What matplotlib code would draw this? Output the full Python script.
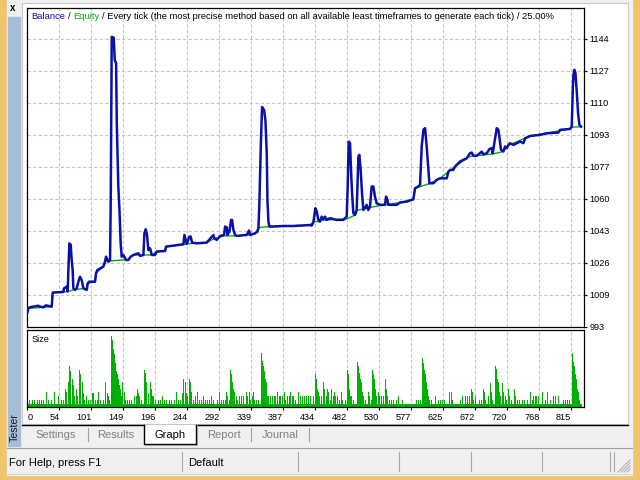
import numpy as np
import matplotlib
matplotlib.use("Agg")
import matplotlib.pyplot as plt
from matplotlib.patches import Rectangle

plt.rcParams['font.family'] = ['Liberation Sans', 'DejaVu Sans']

# balance line (trade number, account value)
balance_trade = [6.5, 8.0, 10.4, 22.8, 25.3, 30.3, 34.2, 42.7, 44.2, 60.0, 61.0, 65.0, 66.5, 67.5, 69.0,
                 71.0, 72.4, 73.9, 74.9, 77.4, 79.9, 82.4, 84.8, 87.3, 89.8, 94.8, 96.2, 98.2, 107.2,
                 108.6, 110.6, 119.5, 122.0, 123.5, 127.0, 129.5, 130.5, 132.0, 135.0, 136.5, 138.5,
                 139.5, 141.8, 143.4, 145.3, 146.8, 149.3, 153.3, 156.8, 160.2, 164.2, 171.6, 174.1,
                 179.1, 180.6, 182.6, 184.5, 186.5, 189.0, 191.5, 196.4, 198.9, 211.3, 212.8, 223.7,
                 238.6, 240.1, 242.1, 243.6, 247.5, 249.5, 251.5, 258.4, 273.3, 283.2, 284.7, 288.2,
                 293.2, 299.1, 300.6, 303.1, 304.1, 307.0, 309.5, 311.0, 313.0, 315.5, 318.0, 332.8,
                 336.3, 337.8, 345.2, 348.7, 350.2, 351.7, 353.7, 355.6, 358.6, 360.6, 362.6, 363.6,
                 365.1, 366.6, 372.5, 387.4, 402.3, 427.1, 429.4, 431.9, 434.9, 436.9, 439.3, 441.8,
                 444.3, 446.8, 449.3, 451.7, 456.7, 466.6, 476.5, 479.0, 481.5, 483.0, 484.5, 486.5,
                 487.9, 489.4, 491.4, 493.9, 496.4, 498.9, 500.3, 502.3, 504.3, 506.3, 508.8, 511.2,
                 513.7, 516.2, 518.7, 521.2, 523.6, 526.1, 531.1, 538.5, 540.0, 542.0, 543.5, 555.9,
                 560.9, 570.8, 580.7, 583.2, 585.7, 590.6, 593.1, 595.6, 598.1, 600.5, 603.0, 604.5,
                 610.5, 615.4, 620.4, 630.3, 632.8, 635.2, 640.2, 642.7, 650.1, 655.1, 660.0, 665.0,
                 667.5, 670.0, 674.9, 682.4, 684.8, 689.8, 693.8, 697.2, 698.7, 702.2, 704.7, 707.2,
                 709.7, 711.1, 714.6, 717.1, 719.6, 722.0, 724.5, 729.5, 739.4, 744.4, 746.9, 754.3,
                 769.2, 779.1, 796.5, 798.9, 813.8, 816.3, 817.8, 818.8, 820.3, 821.8, 823.7, 825.7,
                 827.7, 830.2]
balance_value = [1000.4, 1002.6, 1003.2, 1004.0, 1003.5, 1003.2, 1004.2, 1003.5, 1010.9, 1011.2, 1013.1,
                 1014.0, 1011.4, 1022.7, 1036.7, 1035.9, 1028.0, 1022.7, 1013.1, 1012.3, 1013.1, 1016.6,
                 1019.2, 1017.5, 1013.1, 1012.3, 1015.7, 1016.6, 1016.6, 1021.0, 1022.7, 1024.5, 1027.1,
                 1029.7, 1027.1, 1028.0, 1058.6, 1145.0, 1144.5, 1132.8, 1131.0, 1100.0, 1066.4, 1055.1,
                 1036.7, 1029.7, 1030.6, 1028.0, 1028.0, 1029.7, 1030.6, 1031.5, 1030.1, 1030.6, 1042.0,
                 1044.1, 1041.1, 1033.2, 1034.1, 1030.6, 1030.6, 1032.4, 1032.7, 1035.0, 1035.5, 1036.2,
                 1041.1, 1038.5, 1036.4, 1040.2, 1040.2, 1037.1, 1036.7, 1037.1, 1041.1, 1039.3, 1038.5,
                 1040.6, 1041.1, 1045.5, 1045.1, 1041.1, 1042.8, 1049.0, 1049.0, 1043.7, 1041.1, 1040.6,
                 1041.1, 1043.4, 1041.1, 1042.0, 1042.8, 1044.6, 1058.6, 1087.4, 1108.2, 1106.6, 1101.4,
                 1083.9, 1059.4, 1048.1, 1045.5, 1045.5, 1045.8, 1045.8, 1046.3, 1046.0, 1047.6, 1055.1,
                 1053.4, 1049.0, 1048.1, 1050.7, 1049.3, 1050.7, 1049.0, 1049.9, 1049.0, 1049.0, 1049.9,
                 1050.7, 1066.5, 1090.1, 1089.2, 1075.2, 1063.9, 1052.5, 1051.6, 1054.2, 1082.2, 1083.1,
                 1075.2, 1063.0, 1054.2, 1055.1, 1056.9, 1054.2, 1056.0, 1066.5, 1066.5, 1061.2, 1057.7,
                 1056.9, 1056.9, 1061.2, 1059.5, 1056.9, 1056.9, 1058.1, 1058.6, 1059.8, 1065.6, 1066.0,
                 1067.3, 1087.5, 1096.2, 1097.1, 1087.5, 1075.2, 1068.2, 1068.2, 1070.0, 1070.8, 1070.8,
                 1074.3, 1075.2, 1075.2, 1077.0, 1079.6, 1080.5, 1081.3, 1084.0, 1084.3, 1082.6, 1082.6,
                 1084.8, 1083.4, 1083.9, 1086.1, 1086.6, 1083.9, 1091.8, 1097.1, 1096.2, 1089.2, 1085.7,
                 1084.8, 1087.5, 1086.6, 1088.3, 1089.2, 1088.3, 1090.1, 1089.2, 1091.8, 1093.0, 1093.6,
                 1094.4, 1094.8, 1096.2, 1096.7, 1097.9, 1117.2, 1125.0, 1127.7, 1125.9, 1116.3, 1104.9,
                 1098.8, 1097.9]

# equity line (only visible under the balance spikes)
equity_trade = [6.4, 8.0, 42.7, 44.2, 60.0, 66.5, 75.0, 89.8, 94.8, 96.2, 107.2, 108.6, 119.5, 123.5,
                129.5, 149.3, 156.8, 160.2, 164.2, 179.1, 191.5, 198.9, 211.3, 212.8, 238.6, 251.5,
                273.3, 283.2, 299.1, 318.0, 345.2, 350.2, 366.6, 427.1, 432.0, 441.0, 444.3, 481.5,
                494.0, 496.4, 516.0, 531.0, 560.9, 580.7, 583.2, 604.5, 620.4, 642.7, 665.0, 697.2,
                711.1, 724.5, 754.3, 813.8, 816.3, 830.2]
equity_value = [1000.4, 1002.6, 1003.5, 1010.9, 1011.2, 1011.4, 1012.3, 1013.1, 1012.3, 1015.7, 1016.6,
                1021.0, 1024.5, 1027.5, 1027.5, 1028.0, 1028.0, 1029.7, 1030.6, 1030.6, 1030.6, 1032.4,
                1032.7, 1035.0, 1036.2, 1036.7, 1037.1, 1039.0, 1040.6, 1040.6, 1041.5, 1045.0, 1045.5,
                1046.3, 1048.1, 1048.1, 1048.8, 1049.5, 1051.5, 1054.0, 1055.5, 1056.5, 1058.1, 1059.8,
                1065.6, 1068.0, 1070.8, 1077.0, 1082.3, 1083.5, 1084.5, 1088.5, 1093.0, 1096.7, 1097.6,
                1097.9]

# lot size per trade
size_trade = [10, 14, 17, 21, 24, 28, 31, 35, 38, 42, 47, 53, 57, 60, 63, 65, 67, 69, 71, 73, 75, 77,
              79, 81, 84, 86, 88, 90, 92, 95, 97, 101, 103, 105, 108, 111, 113, 116, 120, 123, 125, 127,
              129, 131, 133, 134.5, 136, 137.5, 139, 140.5, 142, 143.5, 145, 146.5, 148.5, 150.5, 152,
              155, 159, 162, 166, 169, 170.5, 172, 174, 177, 180, 182, 184, 186, 189, 190.5, 192.5, 194.5,
              197.5, 201, 204.5, 208, 211, 214, 218, 221, 225, 229, 231, 234, 237, 239, 241, 243, 245,
              247, 249, 251, 253, 256, 259, 262, 265, 268, 271, 275, 278, 281, 284, 289, 292, 295, 298,
              300.5, 302.5, 304.5, 306.5, 308.5, 310, 311.5, 313, 315, 317, 319, 322, 325, 328, 332.5,
              334.5, 336.5, 338.5, 341, 343, 345, 347.5, 350.5, 354.5, 356, 357.5, 359, 360.5, 362,
              363.5, 365.5, 368.5, 371.5, 374, 376, 378.5, 381, 383.5, 386, 388.5, 391, 393.5, 396,
              398, 400.5, 403, 405.5, 409.5, 412.5, 415.5, 418.5, 421.5, 425, 428, 432, 435, 436.5,
              438, 439.5, 441.5, 444.5, 447, 449, 451, 453, 455, 457, 459.5, 461.5, 463.5, 465.5,
              468.5, 471.5, 474, 476, 479.5, 482.5, 484, 485.5, 487, 489, 491.5, 497, 498.5, 500,
              501.5, 503, 504.5, 506.5, 510, 513.5, 515.5, 518, 520, 521.5, 522.5, 524, 526, 528.5,
              531, 533.5, 536.5, 539, 540.5, 542.5, 545.5, 548.5, 551.5, 555, 558.5, 564, 585, 588,
              591, 594, 595.5, 597, 598.5, 600, 601.5, 603, 605, 608, 613.5, 618, 621, 624, 627, 634,
              637, 639, 650.5, 654, 657.5, 661.5, 663.5, 667, 668.5, 670.5, 673.5, 678.5, 681.5, 685,
              686.5, 688.5, 692.5, 695.5, 697, 699, 702.5, 704, 705.5, 707, 708.5, 710.5, 713, 715,
              717, 719.5, 722, 724, 726, 731, 733, 736, 739, 743, 746, 750, 755, 757.5, 760, 762,
              764.5, 766.5, 772.5, 776.5, 780.5, 784.5, 788.5, 792.5, 797, 804, 807.5, 810.5, 813.5,
              817, 818.5, 820, 821.5, 823, 824.5, 826, 827.5]
size_lots = [0.01, 0.01, 0.01, 0.01, 0.01, 0.01, 0.01, 0.021, 0.01, 0.01, 0.021, 0.015, 0.01, 0.01,
             0.025, 0.021, 0.034, 0.056, 0.05, 0.038, 0.03, 0.015, 0.025, 0.015, 0.051, 0.045, 0.034,
             0.019, 0.01, 0.015, 0.01, 0.01, 0.019, 0.019, 0.01, 0.01, 0.021, 0.01, 0.01, 0.034, 0.019,
             0.015, 0.01, 0.098, 0.092, 0.08, 0.073, 0.061, 0.05, 0.045, 0.038, 0.03, 0.025, 0.015,
             0.034, 0.021, 0.01, 0.01, 0.01, 0.01, 0.015, 0.015, 0.025, 0.019, 0.015, 0.01, 0.051,
             0.047, 0.034, 0.019, 0.034, 0.025, 0.015, 0.015, 0.01, 0.01, 0.01, 0.015, 0.01, 0.01,
             0.01, 0.01, 0.01, 0.021, 0.01, 0.01, 0.019, 0.038, 0.034, 0.019, 0.015, 0.038, 0.034,
             0.021, 0.01, 0.015, 0.021, 0.01, 0.01, 0.015, 0.01, 0.01, 0.01, 0.015, 0.01, 0.01,
             0.021, 0.01, 0.01, 0.01, 0.021, 0.015, 0.01, 0.051, 0.045, 0.034, 0.025, 0.021, 0.015,
             0.01, 0.015, 0.015, 0.015, 0.021, 0.015, 0.021, 0.01, 0.015, 0.021, 0.01, 0.01, 0.01,
             0.074, 0.063, 0.057, 0.05, 0.038, 0.034, 0.015, 0.015, 0.015, 0.015, 0.015, 0.015,
             0.021, 0.015, 0.015, 0.015, 0.021, 0.01, 0.015, 0.015, 0.021, 0.015, 0.015, 0.01,
             0.021, 0.015, 0.015, 0.015, 0.015, 0.015, 0.015, 0.015, 0.045, 0.038, 0.025, 0.021,
             0.015, 0.015, 0.034, 0.025, 0.015, 0.025, 0.021, 0.01, 0.025, 0.015, 0.021, 0.015,
             0.015, 0.01, 0.021, 0.01, 0.01, 0.051, 0.045, 0.025, 0.015, 0.015, 0.01, 0.062, 0.057,
             0.047, 0.038, 0.034, 0.021, 0.015, 0.01, 0.021, 0.015, 0.01, 0.051, 0.045, 0.038,
             0.025, 0.015, 0.021, 0.015, 0.015, 0.015, 0.038, 0.025, 0.015, 0.01, 0.01, 0.01, 0.01,
             0.015, 0.01, 0.01, 0.01, 0.01, 0.068, 0.061, 0.051, 0.045, 0.034, 0.025, 0.015, 0.01,
             0.01, 0.015, 0.01, 0.01, 0.01, 0.01, 0.021, 0.021, 0.01, 0.01, 0.015, 0.015, 0.015,
             0.015, 0.025, 0.021, 0.01, 0.015, 0.01, 0.01, 0.025, 0.021, 0.01, 0.015, 0.033, 0.021,
             0.01, 0.057, 0.052, 0.038, 0.034, 0.021, 0.015, 0.033, 0.021, 0.015, 0.01, 0.025,
             0.015, 0.01, 0.025, 0.015, 0.01, 0.01, 0.01, 0.01, 0.01, 0.021, 0.01, 0.015, 0.015,
             0.015, 0.015, 0.021, 0.01, 0.021, 0.01, 0.015, 0.015, 0.015, 0.01, 0.01, 0.01, 0.01,
             0.074, 0.062, 0.056, 0.045, 0.038, 0.025, 0.021, 0.01]
size_floor = 0.004
first_trade, last_trade = 6.4, 831.0

x_labels = ['0', '54', '101', '149', '196', '244', '292', '339', '387', '434', '482', '530',
            '577', '625', '672', '720', '768', '815']
y_labels = ['993', '1009', '1026', '1043', '1060', '1077', '1093', '1110', '1127', '1144']
title_parts = [('Balance', '#0a10a8'), ('/', '#000000'), ('Equity', '#00b000'),
               ('/ Every tick (the most precise method based on all available least timeframes '
                'to generate each tick) / 25.00%', '#000000')]
tabs = ['Settings', 'Results', 'Graph', 'Report', 'Journal']
tab_x = [56, 116, 170, 224, 280]

blue = '#0a10a8'
green = '#00b000'
grid_kw = dict(color='#c4c4c4', lw=0.8, ls=(0, (3, 2)))
fs = 6.6
title_fs = 6.75

fig = plt.figure(figsize=(6.4, 4.8), dpi=100)

# window chrome drawn in pixel coordinates
bg = fig.add_axes([0, 0, 1, 1])
bg.set_xlim(0, 640)
bg.set_ylim(480, 0)
bg.axis('off')
bg.add_patch(Rectangle((0, 0), 640, 480, color='#eec46e'))
bg.add_patch(Rectangle((7, 0), 625, 475, color='#f0f0f0'))
bg.add_patch(Rectangle((22, 3), 606, 421, facecolor='white', edgecolor='#c8c8c8', lw=0.8))
bg.add_patch(Rectangle((8, 17), 12, 429, color='#a6bdd8'))
bg.text(13, 8, 'x', fontsize=7, fontweight='bold', ha='center', va='center')
bg.text(14.5, 428, 'Tester', rotation=90, fontsize=7.6, ha='center', va='center', color='#1a1a1a')
bg.plot([22, 144], [424.5, 424.5], color='black', lw=1)
bg.plot([196, 628], [424.5, 424.5], color='black', lw=1)
bg.add_patch(Rectangle((144, 424.5), 52, 19, facecolor='white', edgecolor='none'))
bg.plot([144, 144, 196, 196], [424.5, 443.5, 443.5, 424.5], color='black', lw=1)
bg.plot([145, 197, 197], [444.5, 444.5, 425], color='#a0a0a0', lw=0.8)
for sx in [88, 251, 309]:
    bg.plot([sx, sx], [428, 441], color='#a0a0a0', lw=0.8)
for name, tx in zip(tabs, tab_x):
    bg.text(tx, 434.5, name, fontsize=8, ha='center', va='center',
            color='black' if name == 'Graph' else '#808080')
bg.plot([7, 632], [447.5, 447.5], color='#a0a0a0', lw=0.8)
bg.plot([7, 632], [473.5, 473.5], color='#d8d8d8', lw=0.8)
for sx in [182, 298, 399, 471, 542, 610, 614]:
    bg.plot([sx, sx], [452, 471], color='#a8a8a8', lw=0.8)
for k in range(4):
    bg.plot([618 + 3 * k, 630], [472, 460 + 3 * k], color='#b0b0b0', lw=0.8)
bg.text(9, 463, 'For Help, press F1', fontsize=8, va='center')
bg.text(188, 463, 'Default', fontsize=8, va='center')

# main balance / equity chart
ax = fig.add_axes([27.3 / 640, 1 - 327 / 480, (584 - 27.3) / 640, (327 - 8) / 480])
ax.set_xlim(6.4, 834.5)
ax.set_ylim(992.84, 1160.1)
xt = np.linspace(6.4, 815.6, 18)
yt = np.linspace(993, 1144, 10)
for v in xt[1:]:
    ax.axvline(v, **grid_kw, zorder=0)
for v in yt[1:]:
    ax.axhline(v, **grid_kw, zorder=0)
ax.plot(equity_trade, equity_value, color=green, lw=1.0, zorder=2)
ax.plot(balance_trade, balance_value, color=blue, lw=1.8, zorder=3)
ax.set_xticks([])
ax.yaxis.tick_right()
ax.set_yticks(yt, y_labels)
ax.tick_params(axis='y', length=2.5, width=0.8, pad=1.5, labelsize=fs, direction='out')
for s in ax.spines.values():
    s.set_linewidth(0.9)

# size chart
ax2 = fig.add_axes([27.3 / 640, 1 - 407 / 480, (584 - 27.3) / 640, (407 - 329.8) / 480])
ax2.set_xlim(6.4, 834.5)
ax2.set_ylim(0, 0.1064)
for v in xt[1:]:
    ax2.axvline(v, **grid_kw, zorder=0)
ax2.bar(first_trade, size_floor, width=last_trade - first_trade, align='edge', color=green,
        lw=0, zorder=2)
ax2.bar(size_trade, size_lots, width=1.5, color=green, lw=0, zorder=2)
ax2.set_yticks([])
ax2.set_xticks(xt, x_labels)
ax2.tick_params(axis='x', length=2.5, width=0.8, pad=2, labelsize=fs, direction='out')
for i, lab in enumerate(ax2.get_xticklabels()):
    lab.set_ha('left' if i == 0 else 'right')
ax2.text(0.007, 0.88, 'Size', transform=ax2.transAxes, fontsize=fs, va='center')
for s in ax2.spines.values():
    s.set_linewidth(0.9)

# title with coloured words, drawn on the figure so it sits above the chart
renderer = fig.canvas.get_renderer()
def text_width(s):
    t = fig.text(0, 0, s, fontsize=title_fs)
    w = t.get_window_extent(renderer).width
    t.remove()
    return w
x0 = 31
prefix = ''
for i, (part, col) in enumerate(title_parts):
    full = part if i == 0 else prefix + ' ' + part
    px = x0 + text_width(full) - text_width(part)
    fig.text(px / 640, 1 - 16.5 / 480, part, fontsize=title_fs, color=col, va='center')
    prefix = full

fig.savefig('out.png', dpi=100)
